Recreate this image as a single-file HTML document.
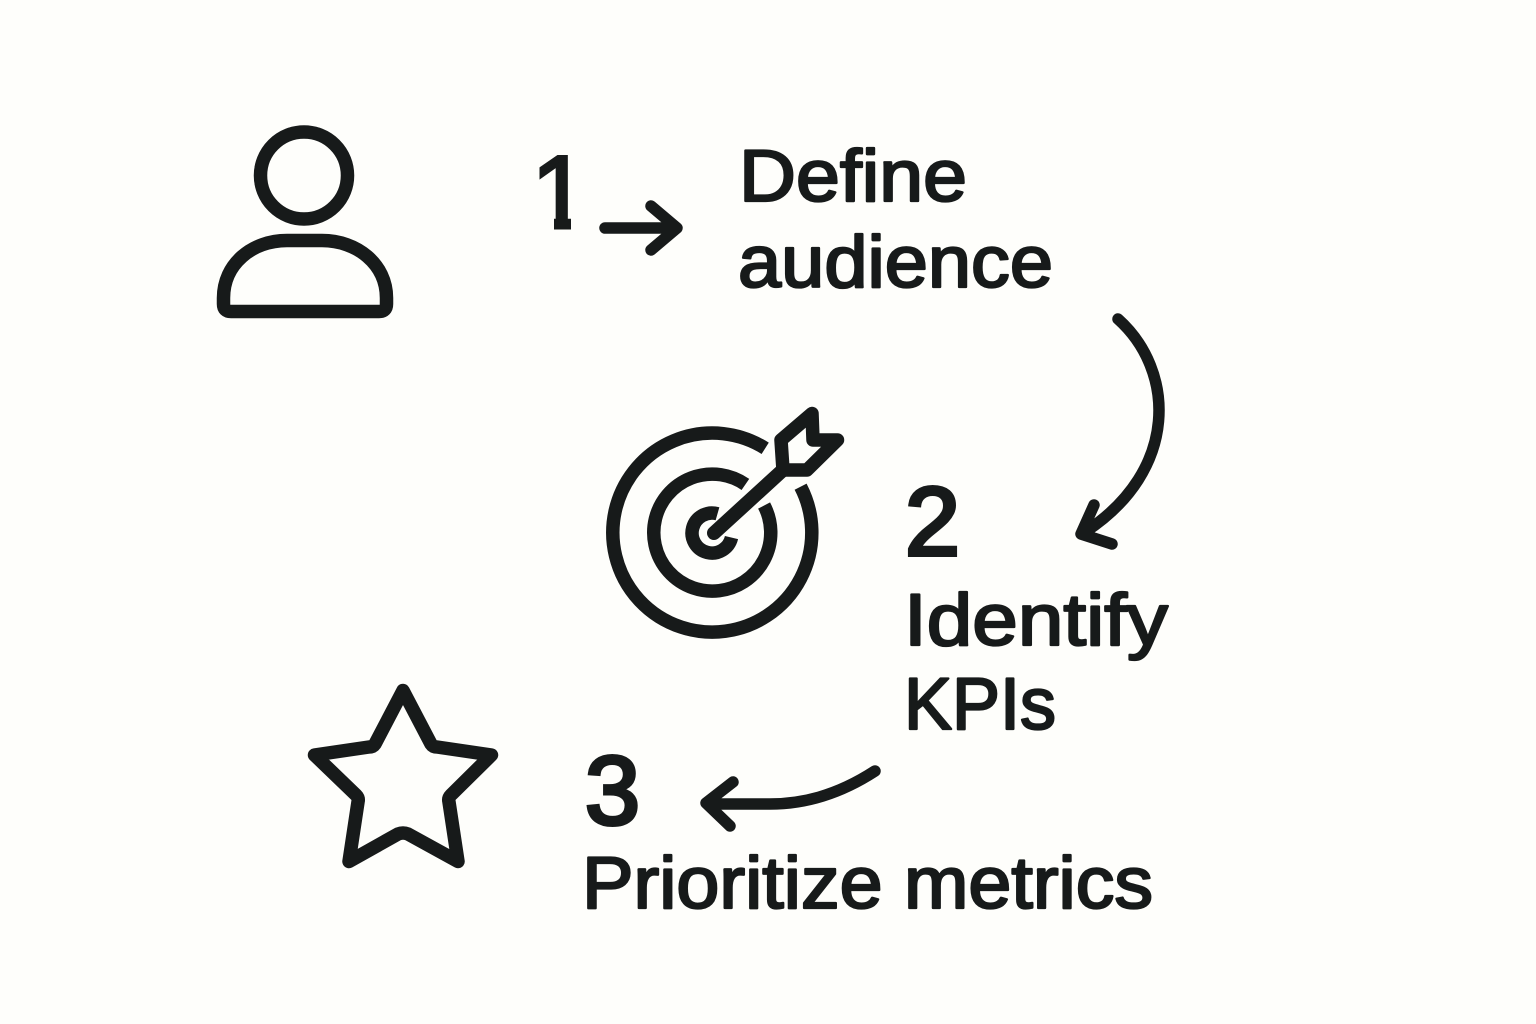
<!DOCTYPE html>
<html><head><meta charset="utf-8"><style>
html,body{margin:0;padding:0;background:#fefefb}
svg{display:block}
text{font-family:"Liberation Sans",sans-serif;fill:#171a1a}
.t{stroke:#171a1a;stroke-width:2.3px;stroke-linejoin:round}
.n{stroke:#171a1a;stroke-width:4px;stroke-linejoin:miter}
.i{fill:none;stroke:#171a1a;stroke-width:13.5;stroke-linecap:round;stroke-linejoin:round}
.b{fill:none;stroke:#171a1a;stroke-width:13.5;stroke-linecap:butt}
.a{fill:none;stroke:#171a1a;stroke-width:11.5;stroke-linecap:round;stroke-linejoin:round}
</style></head><body>
<svg width="1536" height="1024" viewBox="0 0 1536 1024" xmlns="http://www.w3.org/2000/svg">
<rect width="1536" height="1024" fill="#fefefb"/>
<!-- person -->
<circle class="i" cx="304" cy="175.5" r="43.5"/>
<path class="i" d="M231 311.500H379Q386.500 311.500 386.500 304V298C386.500 264 357 240.500 322 240.500H287C252 240.500 223.500 264 223.500 298V304Q223.500 311.500 231 311.500Z"/>
<!-- target -->
<path class="b" d="M765.2 448.3A99.500 99.500 0 1 0 800.6 486.7"/>
<path class="b" d="M745.4 484.4A58.500 58.500 0 1 0 764.1 505.5"/>
<path class="b" d="M717.5 513.8A20 20 0 1 0 731.5 537.600"/>
<path class="i" style="stroke-width:14" d="M714 533L784 469"/>
<path class="i" d="M812 413.500L781 440L783 470H807L837.500 440H813Z"/>
<!-- star -->
<path class="i" d="M403 690.500L431 744Q433 747 437 747L491.500 755L451 795Q448 798 449 802L458 861.500L408 834Q403 832 398 834L349 861.500L358 802Q359 798 356 795L314.500 755L369 747Q373 747 375 744Z"/>
<!-- arrows -->
<path class="a" d="M605 228H676M651 206L677 228L651 250"/>
<path class="a" d="M1118 319C1175 370 1180 470 1085 532M1094 505L1081 534L1112 544"/>
<path class="a" d="M875 771C835 797 800 804 770 804H708M733 782L706 803L730 826"/>
<!-- text -->
<text class="n" style="stroke-width:3px" x="531" y="228" font-size="104">1</text>
<rect x="520" y="217" width="34" height="16" fill="#fefefb"/>
<rect x="571" y="217" width="22" height="16" fill="#fefefb"/>
<text class="t" x="739" y="201" font-size="73" textLength="228" lengthAdjust="spacingAndGlyphs">Define</text>
<text class="t" x="738" y="287" font-size="73" textLength="315" lengthAdjust="spacingAndGlyphs">audience</text>
<text class="n" x="905" y="555" font-size="97" textLength="55" lengthAdjust="spacingAndGlyphs">2</text>
<text class="t" x="904" y="645" font-size="73" textLength="264" lengthAdjust="spacingAndGlyphs">Identify</text>
<text class="t" x="904" y="729" font-size="73" textLength="152" lengthAdjust="spacingAndGlyphs">KPIs</text>
<text class="n" x="585" y="824" font-size="97" textLength="55" lengthAdjust="spacingAndGlyphs">3</text>
<text class="t" x="582" y="908" font-size="73" textLength="571" lengthAdjust="spacingAndGlyphs">Prioritize metrics</text>
</svg>
</body></html>
